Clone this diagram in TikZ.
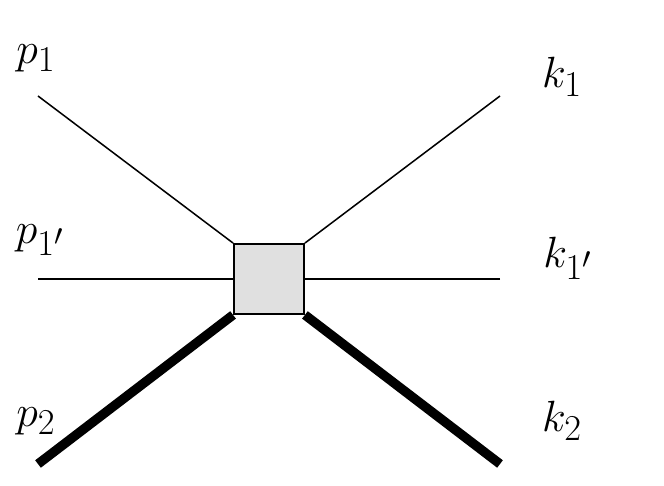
\documentclass[tikz,border=0pt]{standalone}
\begin{document}
\begin{tikzpicture}[x=0.03cm,y=-0.03cm]
  \tikzset{blob/.style={draw,fill=black!12,line width=1.6pt,minimum size=2.1cm,inner sep=0pt},
           leg/.style={line width=1.3pt},
           heavy leg/.style={line width=8pt},
           lbl/.style={font=\Huge,scale=1.5}}
  \useasboundingbox (0,0) rectangle (664,486);

  \node [blob] (vertex) at (269,279) {};

  \coordinate (p1) at (38,96);
  \coordinate (p1p) at (38,279);
  \coordinate (p2) at (38,464);
  \coordinate (k1) at (500,96);
  \coordinate (k1p) at (500,279);
  \coordinate (k2) at (500,464);

  \draw [leg] (p1) -- (vertex.north west);
  \draw [leg] (p1p) -- (vertex.west);
  \draw [heavy leg] (p2) -- (vertex.south west);
  \draw [leg] (k1) -- (vertex.north east);
  \draw [leg] (k1p) -- (vertex.east);
  \draw [heavy leg] (k2) -- (vertex.south east);

  \node [lbl] (p1text) at (36,58) {$p_1$};
  \node [lbl] (p1ptext) at (40,240) {$p_{1'}$};
  \node [lbl] (p2text) at (36,421) {$p_2$};
  \node [lbl] (k1text) at (562,77) {$k_1$};
  \node [lbl] (k1ptext) at (568,258) {$k_{1'}$};
  \node [lbl] (k2text) at (562,421) {$k_2$};
\end{tikzpicture}
\end{document}
